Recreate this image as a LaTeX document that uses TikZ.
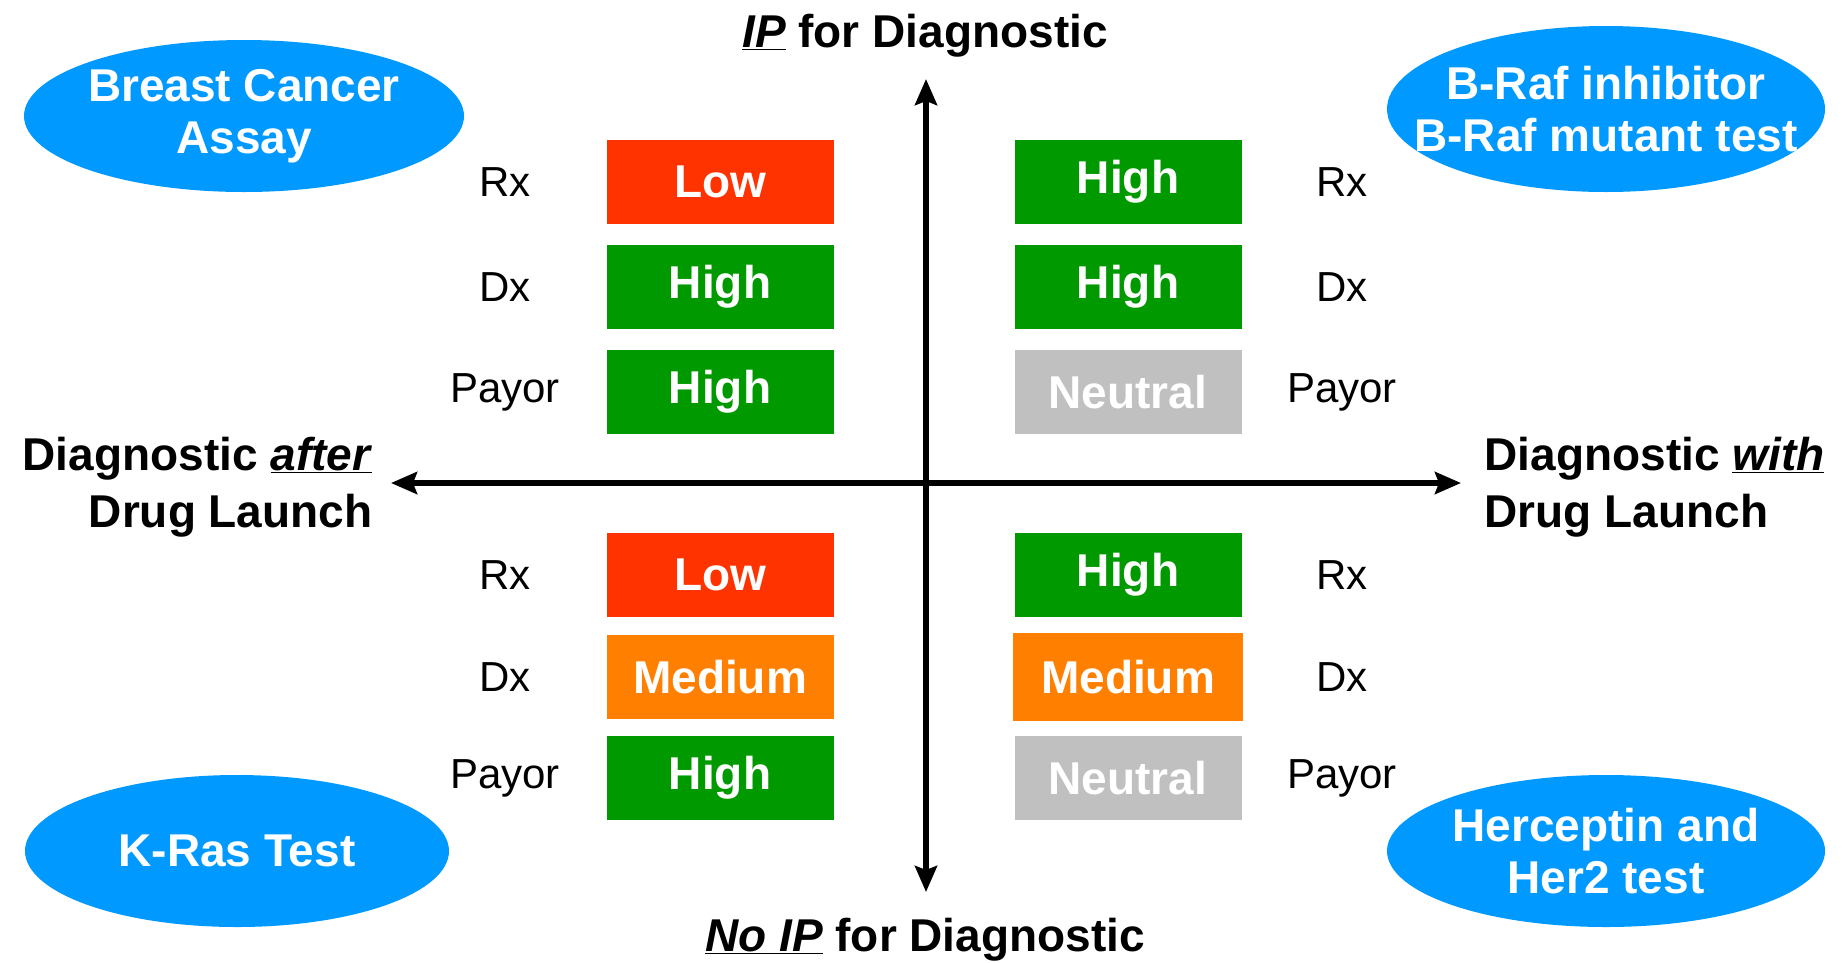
\documentclass[tikz,border=0pt]{standalone}
\usepackage{fontspec}
\setmainfont{Liberation Sans}
\usetikzlibrary{shapes.geometric,arrows.meta}
\definecolor{bubbleblue}{RGB}{0,153,255}
\definecolor{lowred}{RGB}{255,51,0}
\definecolor{highgreen}{RGB}{0,153,0}
\definecolor{medorange}{RGB}{255,128,0}
\definecolor{neutralgrey}{RGB}{192,192,192}

\begin{document}
\begin{tikzpicture}[x=1pt, y=-1pt,
    score/.style={rectangle, minimum width=227pt, minimum height=84pt, inner sep=0pt, text=white, font=\fontsize{46}{52}\selectfont\bfseries},
    bubble/.style={ellipse, fill=bubbleblue, inner xsep=-50pt, inner ysep=0pt, text=white, align=center, font=\fontsize{46}{52}\selectfont\bfseries},
    role/.style={font=\fontsize{42}{48}\selectfont},
    axislabel/.style={font=\fontsize{46}{57}\selectfont\bfseries},
    axis/.style={{Stealth[length=26pt,width=22pt,inset=4pt]}-{Stealth[length=26pt,width=22pt,inset=4pt]}, line width=6pt}
]
\useasboundingbox (0,0) rectangle (1843,962);

% Axes
\coordinate (ytop) at (926,79);
\coordinate (ybot) at (926,892);
\coordinate (xleft) at (391,483);
\coordinate (xright) at (1461,483);
\draw[axis] (ybot) -- (ytop);
\draw[axis] (xleft) -- (xright);

% Axis labels
\node[axislabel] (ipyes) at (925,36) {\underline{\textit{IP}} for Diagnostic};
\node[axislabel] (ipno) at (925,940) {\underline{\textit{No IP}} for Diagnostic};
\node[axislabel, align=right, anchor=east] (after) at (376,487) {Diagnostic \underline{\textit{after}}\\Drug Launch};
\node[axislabel, align=left, anchor=west] (with) at (1481,487) {Diagnostic \underline{\textit{with}}\\Drug Launch};

% Example bubbles
\node[bubble, minimum width=440pt, minimum height=152pt] (breast) at (244,116) {Breast Cancer\\Assay};
\node[bubble, minimum width=438pt, minimum height=166pt] (braf) at (1606,109) {B-Raf inhibitor\\B-Raf mutant test};
\node[bubble, minimum width=424pt, minimum height=152pt] (kras) at (237,851) {K-Ras Test};
\node[bubble, minimum width=438pt, minimum height=152pt] (herceptin) at (1606,851) {Herceptin and\\Her2 test};

% Upper left quadrant
\node[role] (ulrx) at (505,182) {Rx};
\node[role] (uldx) at (505,287) {Dx};
\node[role] (ulpay) at (505,392) {Payor};
\node[score, fill=lowred] (ulrxval) at (720,182) {Low};
\node[score, fill=highgreen] (uldxval) at (720,287) {High};
\node[score, fill=highgreen] (ulpayval) at (720,392) {High};

% Upper right quadrant
\node[score, fill=highgreen] (urrxval) at (1128,182) {High};
\node[score, fill=highgreen] (urdxval) at (1128,287) {High};
\node[score, fill=neutralgrey] (urpayval) at (1128,392) {Neutral};
\node[role] (urrx) at (1342,182) {Rx};
\node[role] (urdx) at (1342,287) {Dx};
\node[role] (urpay) at (1342,392) {Payor};

% Lower left quadrant
\node[role] (llrx) at (505,575) {Rx};
\node[role] (lldx) at (505,677) {Dx};
\node[role] (llpay) at (505,778) {Payor};
\node[score, fill=lowred] (llrxval) at (720,575) {Low};
\node[score, fill=medorange] (lldxval) at (720,677) {Medium};
\node[score, fill=highgreen] (llpayval) at (720,778) {High};

% Lower right quadrant
\node[score, fill=highgreen] (lrrxval) at (1128,575) {High};
\node[score, fill=medorange, minimum width=230pt, minimum height=88pt] (lrdxval) at (1128,677) {Medium};
\node[score, fill=neutralgrey] (lrpayval) at (1128,778) {Neutral};
\node[role] (lrrx) at (1342,575) {Rx};
\node[role] (lrdx) at (1342,677) {Dx};
\node[role] (lrpay) at (1342,778) {Payor};

\end{tikzpicture}
\end{document}
